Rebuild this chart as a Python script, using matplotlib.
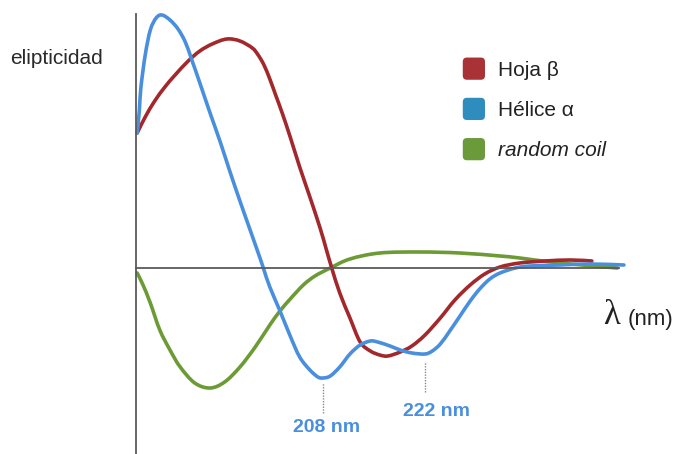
import matplotlib
matplotlib.use("Agg")
import matplotlib.pyplot as plt
from matplotlib.path import Path
from matplotlib.patches import PathPatch, Patch, FancyBboxPatch
from matplotlib.legend_handler import HandlerPatch

plt.rcParams["font.family"] = ["Liberation Sans", "DejaVu Sans"]

# curvas de dicroísmo circular (longitud de onda en nm, elipticidad en u.a.)
helix_nm = [182.5, 182.8, 183.0, 183.6, 184.3, 185.1, 185.9, 187.0, 188.1, 189.1,
            190.0, 191.1, 192.5, 193.9, 195.2, 196.6, 198.0, 199.4, 199.9, 200.7,
            202.1, 203.5, 204.8, 206.2, 207.3, 208.0, 209.0, 210.3, 211.7, 213.1,
            214.5, 215.5, 217.2, 218.6, 220.2, 222.0, 223.0, 224.1, 225.4, 226.8,
            228.2, 229.5, 230.9, 232.3, 234.4, 236.4, 240.5, 244.6, 249.3]
helix_elip = [13.5, 15.8, 18.0, 21.3, 23.8, 25.0, 25.3, 24.8, 23.9, 22.6,
              20.8, 18.5, 15.5, 12.6, 9.7, 6.7, 3.8, 0.9, -0.2, -1.9,
              -4.3, -6.8, -8.9, -10.2, -10.9, -11.0, -10.8, -9.9, -8.6, -7.7,
              -7.3, -7.4, -7.8, -8.2, -8.5, -8.6, -8.3, -7.6, -6.3, -4.8,
              -3.3, -2.1, -1.1, -0.5, 0.0, 0.2, 0.3, 0.4, 0.3]

sheet_nm = [182.5, 183.6, 184.9, 186.3, 187.7, 189.5, 191.1, 192.8, 194.8, 196.6,
            198.3, 199.1, 199.9, 200.7, 201.5, 202.4, 203.5, 204.8, 206.2, 207.6,
            208.4, 209.2, 210.3, 211.7, 213.1, 214.5, 215.8, 216.9, 218.6, 220.2,
            222.0, 224.1, 226.1, 228.2, 230.2, 232.3, 235.0, 238.5, 241.9, 244.9]
sheet_elip = [13.5, 15.1, 16.7, 18.1, 19.3, 20.7, 21.7, 22.4, 22.9, 22.7,
              22.0, 21.3, 20.3, 18.9, 17.3, 15.5, 13.1, 10.1, 7.1, 4.0,
              2.0, 0.0, -2.5, -5.0, -7.4, -8.3, -8.7, -8.8, -8.4, -7.8,
              -6.7, -5.0, -3.2, -1.7, -0.6, 0.1, 0.5, 0.7, 0.8, 0.7]

coil_nm = [182.5, 183.3, 184.3, 185.6, 187.0, 188.4, 190.4, 192.5, 194.5, 196.6,
           198.7, 200.7, 202.1, 203.5, 205.3, 206.9, 209.0, 211.7, 215.8,
           221.3, 226.8, 232.3, 235.0, 240.5, 248.4]
coil_elip = [-0.5, -1.7, -3.5, -6.2, -8.2, -9.9, -11.5, -12.0, -11.4, -9.9,
             -7.9, -5.7, -4.3, -3.1, -1.7, -0.8, 0.0, 0.9, 1.5,
             1.6, 1.5, 1.2, 1.0, 0.5, 0.0]

series_labels = ["Hoja β", "Hélice α", "random coil"]
minimos_helice = [208, 222]

c_red = "#a3282b"
c_blue = "#4a8fde"
c_green = "#6c9b35"


def smooth_path(xs, ys):
    # curva de Bézier que pasa por todos los puntos (tangentes tipo Catmull-Rom)
    pts = list(zip(xs, ys))
    verts = [pts[0]]
    codes = [Path.MOVETO]
    n = len(pts)
    for i in range(n - 1):
        p0 = pts[max(i - 1, 0)]
        p1 = pts[i]
        p2 = pts[i + 1]
        p3 = pts[min(i + 2, n - 1)]
        c1 = (p1[0] + (p2[0] - p0[0]) / 6, p1[1] + (p2[1] - p0[1]) / 6)
        c2 = (p2[0] - (p3[0] - p1[0]) / 6, p2[1] - (p3[1] - p1[1]) / 6)
        verts += [c1, c2, p2]
        codes += [Path.CURVE4] * 3
    return Path(verts, codes)


fig = plt.figure(figsize=(6.83, 4.54), dpi=100)
ax = fig.add_axes([0, 0, 1, 1])
ax.set_xlim(163.67, 257.41)
ax.set_ylim(-18.6, 26.8)

# ejes cruzados en el origen de elipticidad
for side in ["top", "right"]:
    ax.spines[side].set_visible(False)
ax.spines["left"].set_position(("data", 182.4))
ax.spines["left"].set_bounds(-18.6, 25.4)
ax.spines["bottom"].set_position(("data", 0))
ax.spines["bottom"].set_bounds(182.4, 248.6)
for side in ["left", "bottom"]:
    ax.spines[side].set_color("#5a5a5a")
    ax.spines[side].set_linewidth(1.3)
ax.set_xticks([])
ax.set_yticks([])
ax.patch.set_visible(False)

lw = 2.6
for xs, ys, c in [(coil_nm, coil_elip, c_green),
                  (sheet_nm, sheet_elip, c_red),
                  (helix_nm, helix_elip, c_blue)]:
    ax.add_patch(PathPatch(smooth_path(xs, ys), fill=False, edgecolor=c, lw=lw,
                           capstyle="round", joinstyle="round"))

# marcas de los mínimos de la hélice
ax.vlines(minimos_helice[0], -14.5, -11.5, color="#8a8a8a", lw=1, linestyles=(0, (1, 1)))
ax.vlines(minimos_helice[1], -12.4, -9.4, color="#8a8a8a", lw=1, linestyles=(0, (1, 1)))
ax.text(minimos_helice[0] + 0.5, -16.0, f"{minimos_helice[0]} nm", color=c_blue,
        fontsize=14, fontweight="bold", ha="center", va="center")
ax.text(minimos_helice[1] + 1.6, -14.4, f"{minimos_helice[1]} nm", color=c_blue,
        fontsize=14, fontweight="bold", ha="center", va="center")

fig.text(10 / 683, 1 - 59 / 454, "elipticidad", fontsize=15, color="#2a2a2a",
         ha="left", va="center")
fig.text(603 / 683, 1 - 316 / 454, "λ", fontsize=25, color="#222222",
         family=["Liberation Serif", "DejaVu Serif"], ha="left", va="center")
fig.text(628 / 683, 1 - 319 / 454, "(nm)", fontsize=16, color="#222222",
         ha="left", va="center")


def rounded_square(legend, orig_handle, xdescent, ydescent, width, height, fontsize):
    side = 16
    return FancyBboxPatch((width / 2 - side / 2 - xdescent, height / 2 - side / 2 - ydescent),
                          side, side, boxstyle="round,pad=0,rounding_size=3",
                          facecolor=orig_handle.get_facecolor(), edgecolor="none")


handles = [Patch(facecolor=c) for c in ["#a83236", "#2f8dbd", "#6a9a3a"]]
leg = ax.legend(handles, series_labels, loc="upper left",
                bbox_to_anchor=(452 / 683, 1 - 51 / 454), frameon=False,
                fontsize=15, labelspacing=0.95, handletextpad=0.5,
                handlelength=1.3, handleheight=1.0, borderaxespad=0,
                handler_map={Patch: HandlerPatch(patch_func=rounded_square)})
leg.get_texts()[2].set_style("italic")
for t in leg.get_texts():
    t.set_color("#222222")

fig.savefig("out.png", dpi=100)
